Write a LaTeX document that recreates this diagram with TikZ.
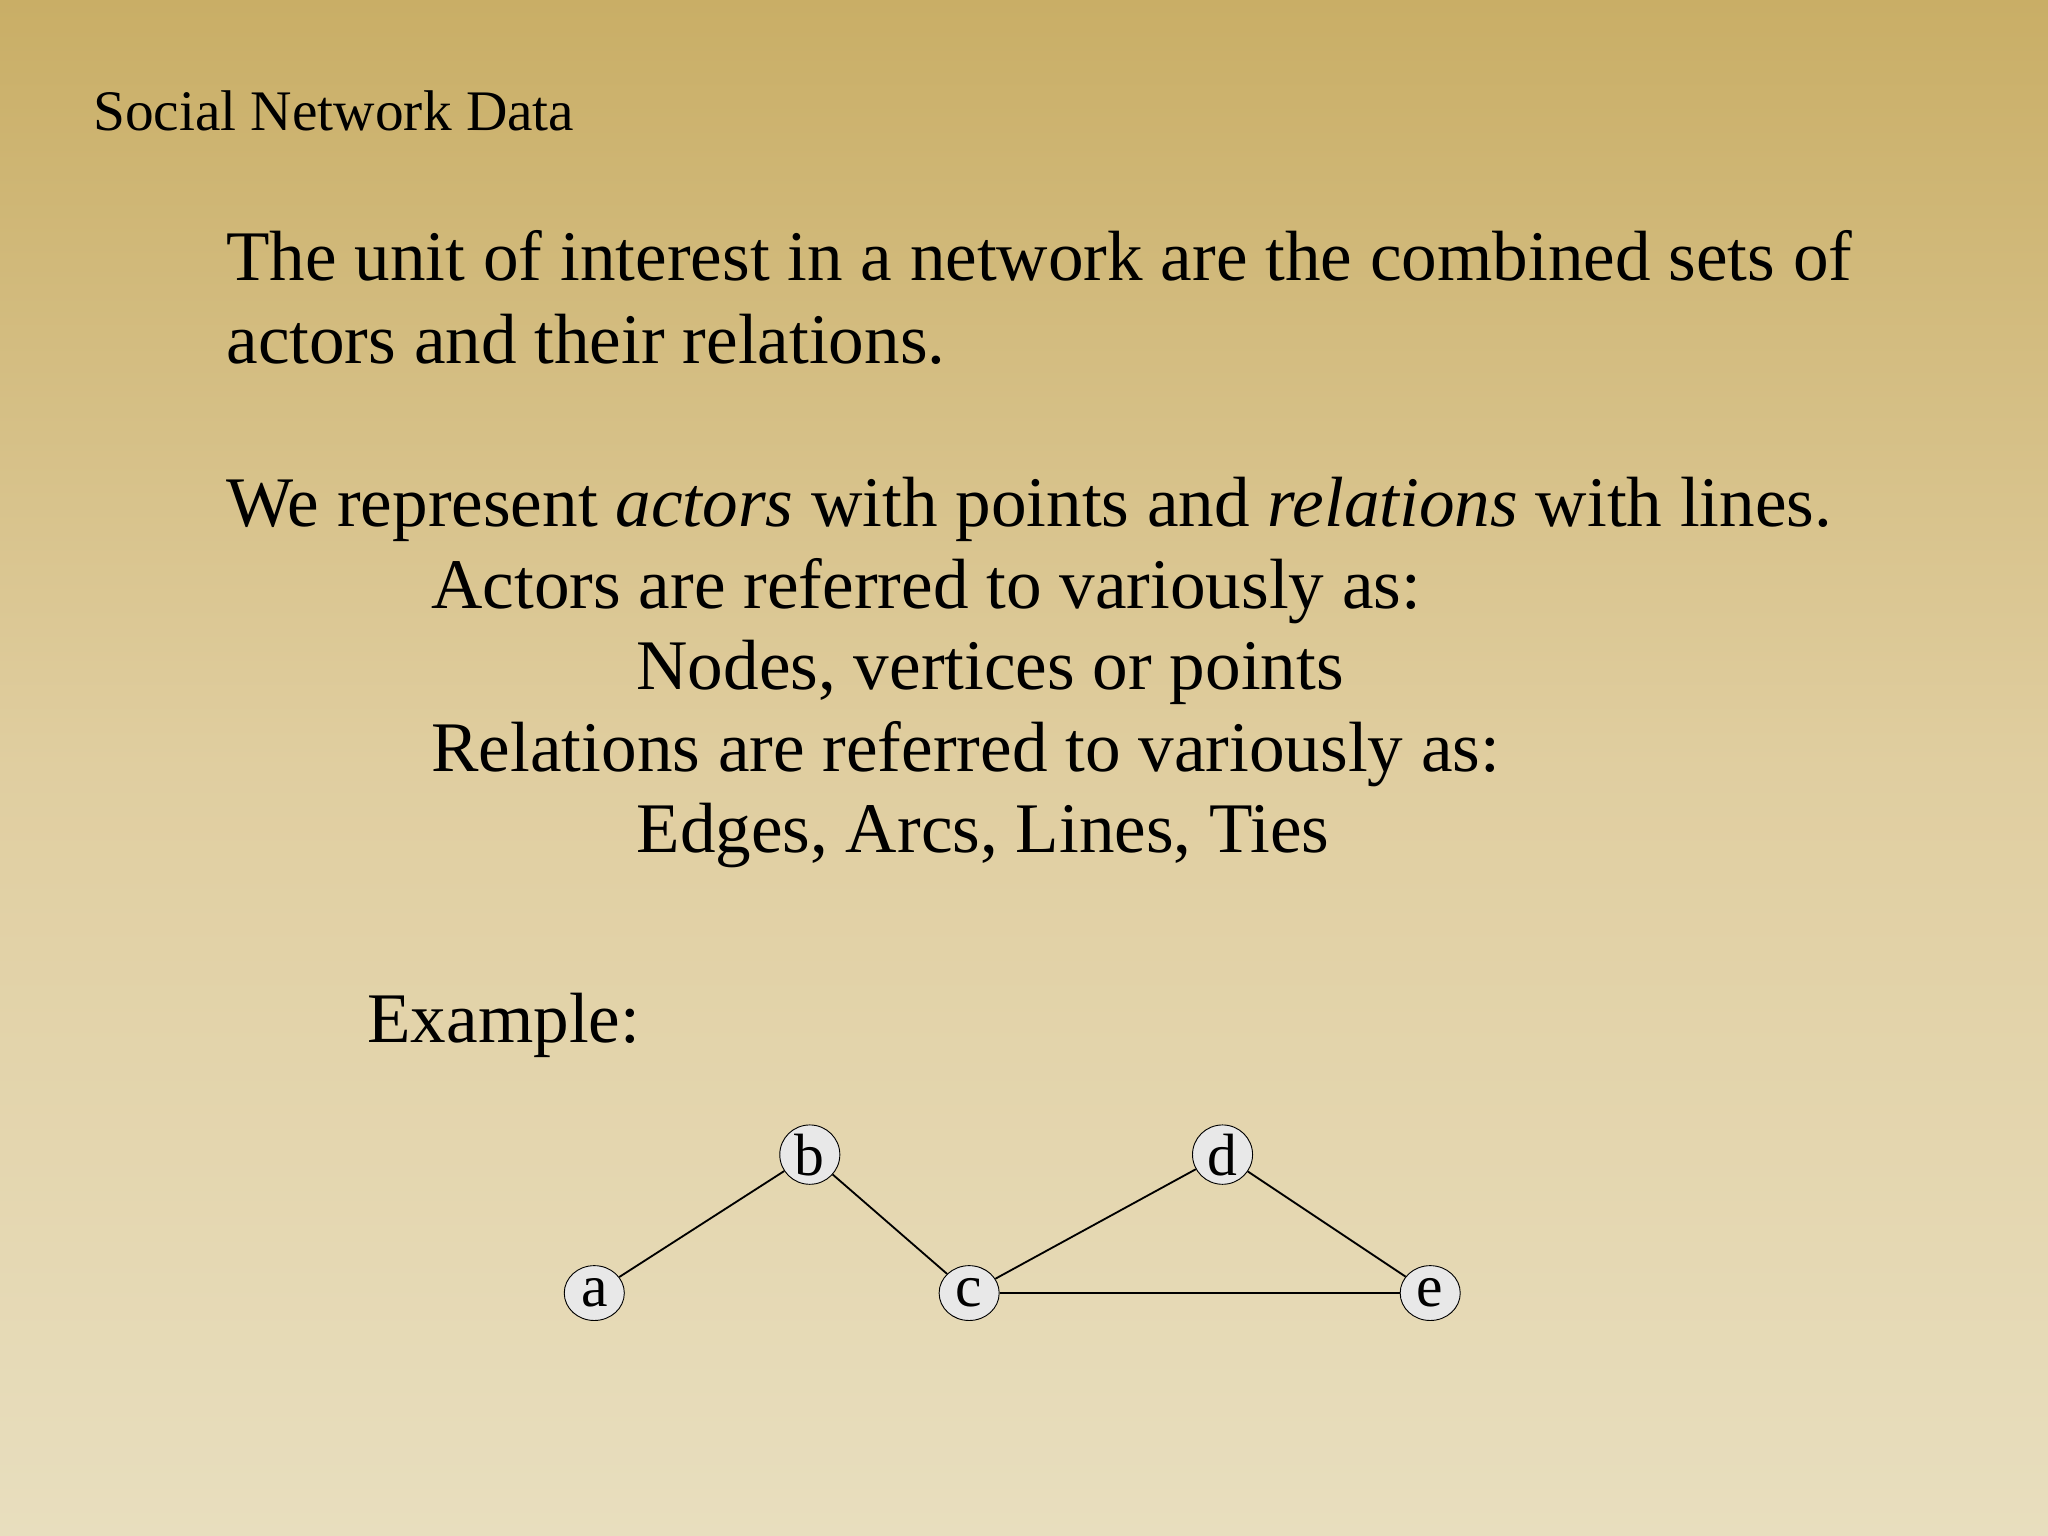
\documentclass[tikz,border=0pt]{standalone}
\usepackage{fontspec}
\setmainfont{Liberation Serif}
\begin{document}
\begin{tikzpicture}[x=0.02cm,y=-0.02cm,
  txt/.style={anchor=base west,inner sep=0pt,font=\fontsize{31}{36}\selectfont},
  vtx/.style={ellipse,draw,fill=gray!18,minimum width=0.92cm,minimum height=0.84cm,inner sep=0pt,font=\fontsize{26}{30}\selectfont},
  edge/.style={draw,line width=0.8pt}]
\usetikzlibrary{shapes.geometric}
\shade[top color={rgb,255:red,201;green,174;blue,102},bottom color={rgb,255:red,232;green,222;blue,190},middle color={rgb,255:red,224;green,206;blue,160}] (0,0) rectangle (1568,1176);
\useasboundingbox (0,0) rectangle (1568,1176);
\node[txt,font=\fontsize{25}{30}\selectfont] (title) at (71,100) {Social Network Data};
\node[txt] (l1) at (173,215) {The unit of interest in a network are the combined sets of};
\node[txt] (l2) at (173,278) {actors and their relations.};
\node[txt] (l3) at (173,403) {We represent \textit{actors} with points and \textit{relations} with lines.};
\node[txt] (l4) at (330,466) {Actors are referred to variously as:};
\node[txt] (l5) at (487,528) {Nodes, vertices or points};
\node[txt] (l6) at (330,591) {Relations are referred to variously as:};
\node[txt] (l7) at (487,653) {Edges, Arcs, Lines, Ties};
\node[txt] (ex) at (281,798) {Example:};
\node[vtx] (a) at (455,990) {a};
\node[vtx] (b) at (620,884) {b};
\node[vtx] (c) at (742,990) {c};
\node[vtx] (d) at (936,884) {d};
\node[vtx] (e) at (1095,990) {e};
\draw[edge] (a) -- (b);
\draw[edge] (b) -- (c);
\draw[edge] (c) -- (d);
\draw[edge] (d) -- (e);
\draw[edge] (c) -- (e);
\end{tikzpicture}
\end{document}
